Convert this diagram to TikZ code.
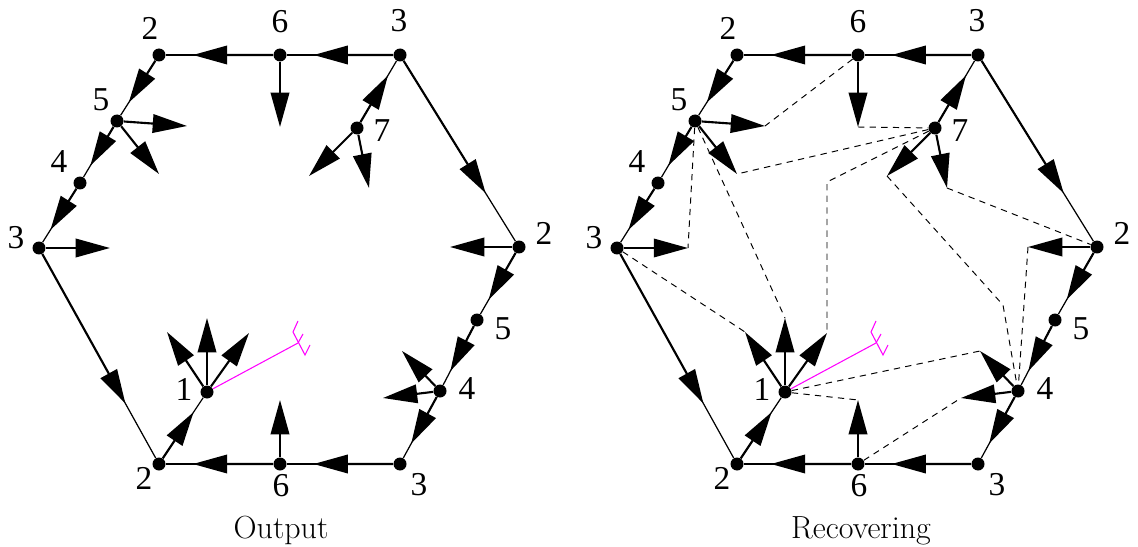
\documentclass[tikz,border=0pt]{standalone}
\usepackage{fontspec}
\newfontfamily\digitfont{Liberation Serif}
\usetikzlibrary{arrows.meta,calc}
\definecolor{cutpink}{RGB}{255,0,255}
\tikzset{
  dot/.style={circle,fill=black,inner sep=0pt,minimum size=0.26cm},
  lbl/.style={font=\digitfont\fontsize{19}{19}\selectfont,inner sep=0pt},
  edge/.style={line width=0.7pt},
  vec/.style={line width=1.2pt,-{Triangle[length=19.5pt,width=10.5pt]}},
  rec/.style={line width=0.55pt,dash pattern=on 3.6pt off 3pt},
  cutline/.style={line width=0.6pt,draw=cutpink},
  caption/.style={font=\fontsize{18.2}{21}\selectfont,anchor=base}
}
\begin{document}
\begin{tikzpicture}[x=0.02cm,y=-0.02cm]
\useasboundingbox (0,0) rectangle (1138,547);
% the same mesh twice: output (left), recovering (right)
\foreach \p/\dx in {l/0,r/578}{
\begin{scope}[shift={(\dx,0)}]
  \node[dot] (\p-a2) at (159,55) {};
  \node[dot] (\p-a6) at (280,55) {};
  \node[dot] (\p-a3) at (400,55) {};
  \node[dot] (\p-b2) at (519,247) {};
  \node[dot] (\p-b5) at (477,320) {};
  \node[dot] (\p-b4) at (440,391) {};
  \node[dot] (\p-c3) at (400,464) {};
  \node[dot] (\p-c6) at (280,464) {};
  \node[dot] (\p-c2) at (159,464) {};
  \node[dot] (\p-d3) at (39,248) {};
  \node[dot] (\p-d4) at (80,183) {};
  \node[dot] (\p-d5) at (117,121) {};
  \node[dot] (\p-n1) at (207,392) {};
  \node[dot] (\p-n7) at (357,128) {};
  % labels
  \node[lbl] (\p-a2t) at (150,28) {2};
  \node[lbl] (\p-a6t) at (280,22) {6};
  \node[lbl] (\p-a3t) at (399,21) {3};
  \node[lbl] (\p-b2t) at (544,233) {2};
  \node[lbl] (\p-b5t) at (503,329) {5};
  \node[lbl] (\p-b4t) at (467,389) {4};
  \node[lbl] (\p-c3t) at (419,485) {3};
  \node[lbl] (\p-c6t) at (281,486) {6};
  \node[lbl] (\p-c2t) at (144,478) {2};
  \node[lbl] (\p-d3t) at (16,238) {3};
  \node[lbl] (\p-d4t) at (59,162) {4};
  \node[lbl] (\p-d5t) at (101,100) {5};
  \node[lbl] (\p-n1t) at (184,389) {1};
  \node[lbl] (\p-n7t) at (382,131) {7};
  % mesh edges, arrow drawn from the source
  \foreach \s/\t in {a3/a6,a6/a2,a2/d5,d5/d4,d4/d3,d3/c2,c2/n1,c3/c6,c6/c2,b4/c3,b5/b4,b2/b5,a3/b2,n7/a3}{
    \draw[edge] (\p-\s) -- (\p-\t);
    \coordinate (\p-\s\t) at ($(\p-\s)!0.72!(\p-\t)$);
    \draw[vec] (\p-\s) -- (\p-\s\t);
  }
  % free vectors
  \foreach \n/\v/\vx/\vy in {a6/v/0/72,d5/r/70/5,d5/d/42/53,d3/r/71/0,b2/l/-69/0,n7/l/-48/48,n7/d/12/60,n1/u/0/-74,n1/l/-40/-60,n1/r/42/-59,c6/u/0/-64,b4/u/-38/-40,b4/l/-57/7}{
    \path (\p-\n) ++(\vx,\vy) coordinate (\p-\n\v);
    \draw[vec] (\p-\n) -- (\p-\n\v);
  }
  % broken edge
  \coordinate (\p-cut) at (298,343);
  \draw[cutline] (\p-n1) -- (\p-cut);
  \draw[cutline] (298,321) -- (293,332) -- (305,355) -- (310,345);
  \draw[cutline] (\p-cut) -- (303,334);
\end{scope}}
% recovered connections
\coordinate (r-bend1) at (827,182);
\coordinate (r-bend2) at (1003,305);
\draw[rec] (r-a6) -- (r-d5r);
\draw[rec] (r-a6v) -- (r-n7);
\draw[rec] (r-n7) -- (r-d5d);
\draw[rec] (r-n7) -- (r-bend1) -- (r-n1r);
\draw[rec] (r-n7l) -- (r-bend2) -- (r-b4);
\draw[rec] (r-n7d) -- (r-b2);
\draw[rec] (r-d5) -- (r-d3r);
\draw[rec] (r-d5) -- (r-n1u);
\draw[rec] (r-d3) -- (r-n1l);
\draw[rec] (r-b2l) -- (r-b4);
\draw[rec] (r-n1) -- (r-b4u);
\draw[rec] (r-n1) -- (r-c6u);
\draw[rec] (r-c6) -- (r-b4l);
\node[caption] (cap-out) at (281,538) {Output};
\node[caption] (cap-rec) at (861,538) {Recovering};
\end{tikzpicture}
\end{document}
